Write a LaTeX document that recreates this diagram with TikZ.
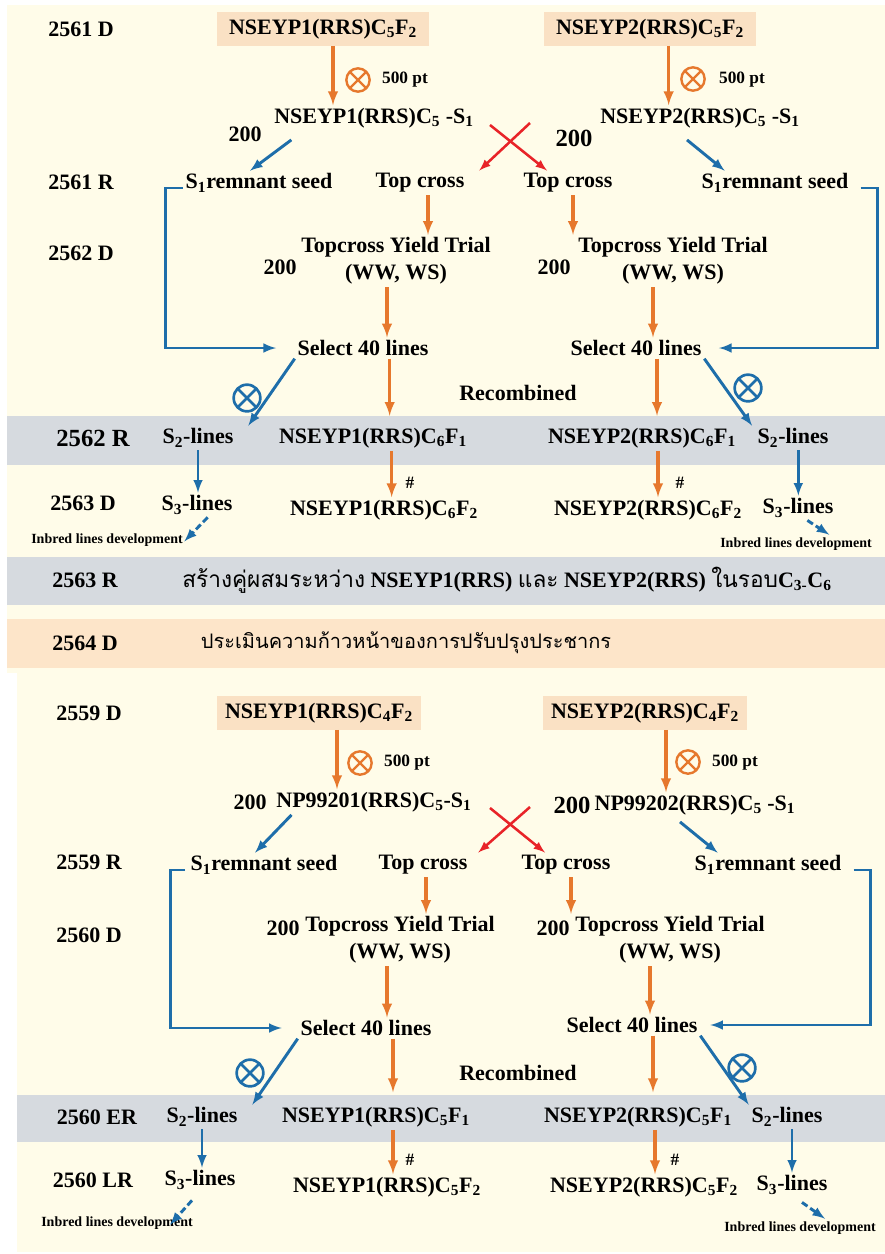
\documentclass[tikz,border=0pt]{standalone}
\usepackage{fontspec}
\setmainfont{Liberation Serif}
\newfontfamily\thaifont[Script=Thai]{Loma}
\definecolor{cream}{RGB}{255,252,233}
\definecolor{bandgray}{RGB}{214,218,223}
\definecolor{bandorange}{RGB}{253,229,201}
\definecolor{boxfill}{RGB}{250,225,196}
\definecolor{arrowor}{RGB}{230,120,45}
\definecolor{arrowbl}{RGB}{30,110,170}
\definecolor{arrowrd}{RGB}{232,35,40}
\begin{document}
\begin{tikzpicture}[x=0.75pt, y=-0.75pt,
	every node/.style={font=\bfseries\fontsize{16.5}{20}\selectfont, inner sep=2pt},
	yr/.style={font=\bfseries\fontsize{16.5}{20}\selectfont},
	big/.style={font=\bfseries\fontsize{18.5}{22}\selectfont},
	pt/.style={font=\bfseries\fontsize{13}{15}\selectfont},
	small/.style={font=\bfseries\fontsize{10.5}{12}\selectfont},
	seedbox/.style={fill=boxfill, inner xsep=6pt, minimum height=25pt},
	selfo/.style={circle, draw=arrowor, line width=1.8pt, minimum size=17.5pt, inner sep=0pt,
		path picture={\draw[arrowor, line width=1.8pt] (path picture bounding box.north west) -- (path picture bounding box.south east)
			(path picture bounding box.north east) -- (path picture bounding box.south west);}},
	selfb/.style={circle, draw=arrowbl, line width=2pt, minimum size=20pt, inner sep=0pt,
		path picture={\draw[arrowbl, line width=2pt] (path picture bounding box.north west) -- (path picture bounding box.south east)
			(path picture bounding box.north east) -- (path picture bounding box.south west);}},
	oarr/.style={draw=arrowor, line width=2.5pt, -latex},
	barr/.style={draw=arrowbl, line width=2.2pt, -latex},
	rarr/.style={draw=arrowrd, line width=1.9pt, -latex},
	dotarr/.style={barr, dash pattern=on 5pt off 2.5pt}]
	% background and bands
	\fill[white] (0,0) rectangle (885,1254);
	\fill[cream] (7,5) rectangle (885,673);
	\fill[cream] (17,673) rectangle (885,1252);
	\fill[bandgray] (7,416) rectangle (885,465);
	\fill[bandgray] (7,557) rectangle (885,605);
	\fill[bandorange] (7,619) rectangle (885,668);
	\fill[bandgray] (17,1095) rectangle (885,1142);
	% first scheme: 2561--2564
	\node[yr] (y61d) at (81,29) {2561 D};
	\node[seedbox, inner xsep=9pt] (p1) at (323,29) {NSEYP1(RRS)C\textsubscript{5}F\textsubscript{2}};
	\node[seedbox, inner xsep=9pt] (p2) at (650,29) {NSEYP2(RRS)C\textsubscript{5}F\textsubscript{2}};
	\node[selfo] (o1) at (358,80) {};
	\node[pt] (n1) at (405,80) {500 pt};
	\node[selfo] (o2) at (693,79) {};
	\node[pt] (n2) at (742,80) {500 pt};
	\node (c1) at (374,118) {NSEYP1(RRS)C\textsubscript{5} -S\textsubscript{1}};
	\node (c2) at (700,118) {NSEYP2(RRS)C\textsubscript{5} -S\textsubscript{1}};
	\node (h1) at (245,134) {200};
	\node[big] (h2) at (574,138) {200};
	\node[yr] (y61r) at (81,182) {2561 R};
	\node (r1) at (259,183) {S\textsubscript{1}remnant seed};
	\node (t1) at (420,183) {Top cross};
	\node (t2) at (568,183) {Top cross};
	\node (r2) at (775,183) {S\textsubscript{1}remnant seed};
	\node[yr] (y62d) at (81,253) {2562 D};
	\node[align=center] (tr1) at (396,261) {Topcross Yield Trial\\(WW, WS)};
	\node (h3) at (280,267) {200};
	\node[align=center] (tr2) at (673,261) {Topcross Yield Trial\\(WW, WS)};
	\node (h4) at (554,267) {200};
	\node (sel1) at (363,348) {Select 40 lines};
	\node (sel2) at (636,348) {Select 40 lines};
	\node (rec1) at (518,393) {Recombined};
	\node[selfb] (o3) at (247,398) {};
	\node[selfb] (o4) at (748,388) {};
	\node[big] (y62r) at (93,438) {2562 R};
	\node (sl1) at (198,438) {S\textsubscript{2}-lines};
	\node (f1) at (373,438) {NSEYP1(RRS)C\textsubscript{6}F\textsubscript{1}};
	\node (f2) at (642,438) {NSEYP2(RRS)C\textsubscript{6}F\textsubscript{1}};
	\node (sl2) at (793,438) {S\textsubscript{2}-lines};
	\node[yr] (y63d) at (83,503) {2563 D};
	\node (st1) at (197,505) {S\textsubscript{3}-lines};
	\node (g1) at (384,510) {NSEYP1(RRS)C\textsubscript{6}F\textsubscript{2}};
	\node (g2) at (648,510) {NSEYP2(RRS)C\textsubscript{6}F\textsubscript{2}};
	\node (st2) at (798,508) {S\textsubscript{3}-lines};
	\node[pt] (k1) at (410,483) {\#};
	\node[pt] (k2) at (680,483) {\#};
	\node[small] (ib1) at (107,540) {Inbred lines development};
	\node[small] (ib2) at (796,544) {Inbred lines development};
	\node[yr] (y63r) at (85,580) {2563 R};
	\node (th1) at (507,580) {{\thaifont\mdseries\fontsize{17}{20}\selectfont สร้างคู่ผสมระหว่าง} NSEYP1(RRS) {\thaifont\mdseries\fontsize{17}{20}\selectfont และ} NSEYP2(RRS) {\thaifont\mdseries\fontsize{17}{20}\selectfont ในรอบ}C\textsubscript{3-}C\textsubscript{6}};
	\node[yr] (y64d) at (85,643) {2564 D};
	\node (th2) at (406,643) {\thaifont\mdseries\fontsize{15}{20}\selectfont ประเมินความก้าวหน้าของการปรับปรุงประชากร};
	\draw[oarr] ([xshift=7.5pt]p1.south) -- ([xshift=7.5pt]p1.south |- c1.north);
	\draw[oarr] ([xshift=14pt]p2.south) -- ([xshift=14pt]p2.south |- c2.north);
	\draw[barr] ([xshift=15pt,yshift=-6.75pt]c1.south west) -- ([xshift=-6.75pt]r1.north);
	\draw[barr] ([xshift=-9.75pt,yshift=-6.75pt]c2.south) -- ([xshift=19.5pt]r2.north west);
	\coordinate (xa1) at (530,123);
	\coordinate (xb1) at (490,125);
	\draw[rarr] (xa1) -- ([xshift=9pt]t1.north east);
	\draw[rarr] (xb1) -- ([xshift=-15.75pt]t2.north);
	\draw[barr, shorten >=14pt] ([yshift=-3.75pt]r1.west) -- ++(-17,0) |- (sel1.west);
	\draw[barr, shorten >=11pt] ([xshift=7pt,yshift=-3.75pt]r2.east) -- ++(17,0) |- (sel2.east);
	\draw[oarr] ([xshift=6pt]t1.south) -- ([xshift=6pt]t1.south |- tr1.north);
	\draw[oarr] ([xshift=3.75pt]t2.south) -- ([xshift=3.75pt]t2.south |- tr2.north);
	\draw[oarr] ([xshift=-6.75pt]tr1.south) -- ([xshift=-6.75pt]tr1.south |- sel1.north);
	\draw[oarr] ([xshift=-15pt]tr2.south) -- ([xshift=-15pt]tr2.south |- sel2.north);
	\draw[oarr, shorten >=7pt] ([xshift=20pt]sel1.south) -- ([xshift=20pt]sel1.south |- f1.north);
	\draw[oarr, shorten >=7pt] ([xshift=15.75pt]sel2.south) -- ([xshift=15.75pt]sel2.south |- f2.north);
	\draw[barr] (sel1.south west) -- ([xshift=9pt]sl1.north east);
	\draw[barr] (sel2.south east) -- ([xshift=-2pt]sl2.north west);
	\draw[barr] (sl1.south) -- (sl1.south |- st1.north);
	\draw[oarr] ([xshift=14pt]f1.south) -- ([xshift=14pt]f1.south |- g1.north);
	\draw[oarr] ([xshift=12pt]f2.south) -- ([xshift=12pt]f2.south |- g2.north);
	\draw[barr] ([xshift=4pt]sl2.south) -- ([xshift=4pt]sl2.south |- st2.north);
	\draw[dotarr] ([xshift=8pt]st1.south) -- ([xshift=58pt,yshift=-8pt]ib1.north);
	\draw[dotarr] ([xshift=7pt]st2.south) -- ([xshift=25pt]ib2.north);
	% second scheme: 2559--2560
	\node[yr] (y59d) at (89,713) {2559 D};
	\node[seedbox] (q1) at (319,713) {NSEYP1(RRS)C\textsubscript{4}F\textsubscript{2}};
	\node[seedbox] (q2) at (645,713) {NSEYP2(RRS)C\textsubscript{4}F\textsubscript{2}};
	\node[selfo] (o5) at (360,763) {};
	\node[pt] (n3) at (407,763) {500 pt};
	\node[selfo] (o6) at (688,762) {};
	\node[pt] (n4) at (735,763) {500 pt};
	\node (h5) at (250,802) {200};
	\node (d1) at (374,802) {NP99201(RRS)C\textsubscript{5}-S\textsubscript{1}};
	\node[big] (h6) at (572,805) {200};
	\node (d2) at (695,805) {NP99202(RRS)C\textsubscript{5} -S\textsubscript{1}};
	\node[yr] (y59r) at (89,862) {2559 R};
	\node (r3) at (264,865) {S\textsubscript{1}remnant seed};
	\node (t3) at (423,865) {Top cross};
	\node (t4) at (566,865) {Top cross};
	\node (r4) at (768,865) {S\textsubscript{1}remnant seed};
	\node[yr] (y60d) at (89,935) {2560 D};
	\node[align=center] (tr3) at (400,940) {Topcross Yield Trial\\(WW, WS)};
	\node (h7) at (283,928) {200};
	\node[align=center] (tr4) at (670,940) {Topcross Yield Trial\\(WW, WS)};
	\node (h8) at (553,928) {200};
	\node (sel3) at (366,1028) {Select 40 lines};
	\node (sel4) at (632,1025) {Select 40 lines};
	\node (rec2) at (518,1073) {Recombined};
	\node[selfb] (o7) at (250,1073) {};
	\node[selfb] (o8) at (742,1068) {};
	\node[yr] (y60er) at (97,1117) {2560 ER};
	\node (sl3) at (202,1117) {S\textsubscript{2}-lines};
	\node (f3) at (376,1117) {NSEYP1(RRS)C\textsubscript{5}F\textsubscript{1}};
	\node (f4) at (638,1117) {NSEYP2(RRS)C\textsubscript{5}F\textsubscript{1}};
	\node (sl4) at (787,1117) {S\textsubscript{2}-lines};
	\node[yr] (y60lr) at (93,1180) {2560 LR};
	\node (st3) at (200,1180) {S\textsubscript{3}-lines};
	\node (g3) at (387,1187) {NSEYP1(RRS)C\textsubscript{5}F\textsubscript{2}};
	\node (g4) at (644,1187) {NSEYP2(RRS)C\textsubscript{5}F\textsubscript{2}};
	\node (st4) at (792,1185) {S\textsubscript{3}-lines};
	\node[pt] (k3) at (410,1160) {\#};
	\node[pt] (k4) at (675,1160) {\#};
	\node[small] (ib3) at (117,1223) {Inbred lines development};
	\node[small] (ib4) at (800,1228) {Inbred lines development};
	\draw[oarr] ([xshift=13.5pt]q1.south) -- ([xshift=13.5pt]q1.south |- d1.north);
	\draw[oarr] ([xshift=15.75pt]q2.south) -- ([xshift=15.75pt]q2.south |- d2.north);
	\draw[barr] ([xshift=13.5pt]d1.south west) -- ([xshift=-6.75pt]r3.north);
	\draw[barr] ([xshift=-11.25pt,yshift=-3pt]d2.south) -- ([xshift=19.5pt]r4.north west);
	\coordinate (xa2) at (530,807);
	\coordinate (xb2) at (490,808);
	\draw[rarr] (xa2) -- ([xshift=6pt]t3.north east);
	\draw[rarr] (xb2) -- ([xshift=-15.75pt]t4.north);
	\draw[barr, shorten >=12pt] ([xshift=-2pt,yshift=-3.75pt]r3.west) -- ++(-15,0) |- (sel3.west);
	\draw[barr, shorten >=7.5pt] ([xshift=7pt,yshift=-3.75pt]r4.east) -- ++(17,0) |- (sel4.east);
	\draw[oarr] ([xshift=2.25pt]t3.south) -- ([xshift=2.25pt]t3.south |- tr3.north);
	\draw[oarr] ([xshift=3.75pt]t4.south) -- ([xshift=3.75pt]t4.south |- tr4.north);
	\draw[oarr] ([xshift=-9.75pt]tr3.south) -- ([xshift=-9.75pt]tr3.south |- sel3.north);
	\draw[oarr] ([xshift=-15pt]tr4.south) -- ([xshift=-15pt]tr4.south |- sel4.north);
	\draw[oarr, shorten >=9pt] ([xshift=20.25pt]sel3.south) -- ([xshift=20.25pt]sel3.south |- f3.north);
	\draw[oarr, shorten >=9pt] ([xshift=15.75pt]sel4.south) -- ([xshift=15.75pt]sel4.south |- f4.north);
	\draw[barr] (sel3.south west) -- ([xshift=9pt]sl3.north east);
	\draw[barr] (sel4.south east) -- (sl4.north west);
	\draw[barr] (sl3.south) -- (sl3.south |- st3.north);
	\draw[oarr] ([xshift=12.75pt]f3.south) -- ([xshift=12.75pt]f3.south |- g3.north);
	\draw[oarr] ([xshift=12.75pt]f4.south) -- ([xshift=12.75pt]f4.south |- g4.north);
	\draw[barr] ([xshift=3.75pt]sl4.south) -- ([xshift=3.75pt]sl4.south |- st4.north);
	\draw[dotarr] ([xshift=-6pt,yshift=-6pt]st3.south) -- ([xshift=39.75pt,yshift=-8.25pt]ib3.north);
	\draw[dotarr] ([xshift=7.5pt,yshift=-3.75pt]st4.south) -- ([xshift=18.75pt]ib4.north);
\end{tikzpicture}
\end{document}
